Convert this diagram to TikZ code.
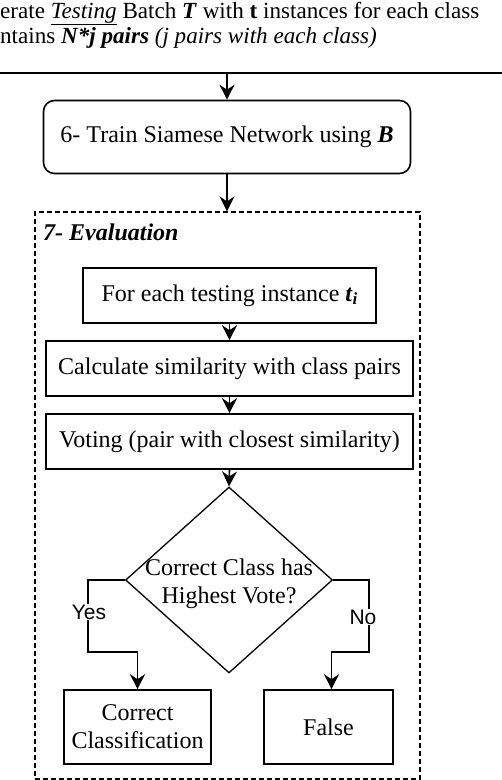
\documentclass[tikz,border=0pt]{standalone}
\usepackage{fontspec}
\setmainfont{Liberation Serif}
\newfontfamily\helv{Liberation Sans}
\usetikzlibrary{arrows.meta,shapes.geometric}
\begin{document}
\begin{tikzpicture}[x=1pt,y=-1pt,
  txt/.style={font=\fontsize{24}{28}\selectfont},
  toptxt/.style={font=\fontsize{23.1}{26}\selectfont},
  box/.style={draw,line width=1.6pt,inner sep=0pt,align=center,txt},
  arr/.style={-{Stealth[length=15pt,width=15pt,inset=5pt]},line width=1.6pt},
  lab/.style={fill=white,inner sep=1pt,font=\helv\fontsize{21}{23}\selectfont}]
\useasboundingbox (0,0) rectangle (502,780);
% top cut-off text
\node[toptxt,anchor=base west,inner sep=0pt] (l1) at (0,18)
  {erate \underline{\textit{Testing}} Batch \textbf{\textit{T}} with \textbf{t} instances for each class};
\node[toptxt,anchor=base west,inner sep=0pt] (l2) at (0,43)
  {ntains \textbf{\textit{N*j pairs}} \textit{(j pairs with each class)}};
\coordinate (tl) at (0,73);
\coordinate (tr) at (502,73);
\draw[line width=1.6pt] (tl) -- (tr);
% box 6
\node[box,rounded corners=11pt,minimum width=367,minimum height=73] (b6) at (227,137)
  {6- Train Siamese Network using \textbf{\textit{B}}};
\draw[arr] (b6.north |- tl) -- (b6.north);
% evaluation frame
\node[draw,dashed,line width=1.3pt,dash pattern=on 5pt off 3pt,minimum width=385,minimum height=567,inner sep=0pt] (ev) at (227.5,495.5) {};
\node[txt,anchor=base west,inner sep=0pt] (evt) at (43,240) {\textbf{\textit{7- Evaluation}}};
\draw[arr] (b6.south) -- (b6.south |- ev.north);
% steps
\node[box,minimum width=293,minimum height=55] (ti) at (229.5,295.5)
  {For each testing instance \textbf{\textit{t}}\raisebox{-3pt}{\fontsize{17}{17}\selectfont\textbf{\textit{i}}}};
\node[box,minimum width=367,minimum height=55] (calc) at (229.5,368.5)
  {Calculate similarity with class pairs};
\node[box,minimum width=367,minimum height=55] (vote) at (229.5,441.5)
  {Voting (pair with closest similarity)};
\draw[arr] (ti.south) -- (calc.north);
\draw[arr] (calc.south) -- (vote.north);
% decision
\node[diamond,draw,line width=1.3pt,minimum width=207,minimum height=186,inner sep=0pt] (dec) at (229,580) {};
\node[txt,align=center,inner sep=0pt] (dect) at (229,584) {Correct Class has\\Highest Vote?};
\draw[arr] (vote.south) -- (dec.north);
% outcomes
\node[box,minimum width=147,minimum height=74] (cc) at (137.5,727)
  {Correct\\Classification};
\node[box,minimum width=129,minimum height=74] (fa) at (328.5,727) {False};
\coordinate (ya) at (88,652);
\coordinate (na) at (369,652);
\draw[arr] (dec.west) -| (ya) -| (cc.north);
\draw[arr] (dec.east) -| (na) -| ([xshift=3pt]fa.north);
\node[lab] (yes) at (89,612) {Yes};
\node[lab] (no) at (363,617) {No};
\end{tikzpicture}
\end{document}
